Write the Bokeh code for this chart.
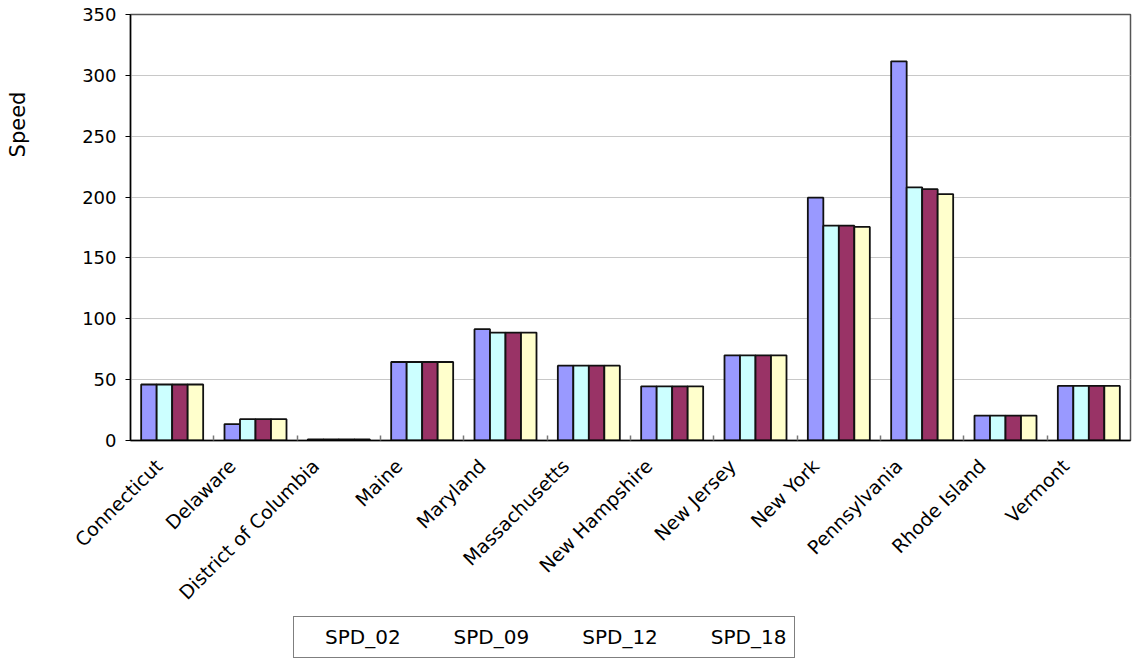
import math
from bokeh.plotting import figure
from bokeh.layouts import column, row
from bokeh.models import (ColumnDataSource, FixedTicker, Label, Legend, LegendItem,
                          LinearAxis, Range1d)
from bokeh.transform import dodge
from bokeh.embed import file_html
from bokeh.resources import INLINE

states = ["Connecticut", "Delaware", "District of Columbia", "Maine", "Maryland",
          "Massachusetts", "New Hampshire", "New Jersey", "New York", "Pennsylvania",
          "Rhode Island", "Vermont"]
series_names = ["SPD_02", "SPD_09", "SPD_12", "SPD_18"]
spd_02 = [46, 13.5, 1, 64.5, 91.5, 61.5, 44.5, 70, 199.5, 311.5, 20.5, 44.8]
spd_09 = [46, 17.5, 1, 64.5, 88.7, 61.5, 44.5, 70, 176.5, 208, 20.5, 44.8]
spd_12 = [46, 17.5, 1, 64.5, 88.7, 61.5, 44.5, 70, 176.5, 206.5, 20.5, 44.8]
spd_18 = [46, 17.5, 1, 64.5, 88.7, 61.5, 44.5, 70, 175.5, 202.5, 20.5, 44.8]
y_ticks = [0, 50, 100, 150, 200, 250, 300, 350]

colors = ["#9999FF", "#CCFFFF", "#993366", "#FFFFCC"]
FONT = "DejaVu Sans"

# page layout: [title strip | main plot] over [legend strip]
W, H = 1135, 661
LEFT_W = 70          # strip holding the vertical axis titles
MAIN_H = 614         # height of the main plot row
LEG_H = H - MAIN_H   # legend strip
FT, FR, FB = 14, 1130, 453   # frame top / right / bottom in page pixels

n = len(states)
source = ColumnDataSource(dict(pos=list(range(n)), state=states, SPD_02=spd_02, SPD_09=spd_09,
                               SPD_12=spd_12, SPD_18=spd_18))

# ---------------- main plot ----------------
p = figure(x_range=Range1d(-0.5, n - 0.5), y_range=(0, 350),
           width=W - LEFT_W, height=MAIN_H, output_backend="svg", toolbar_location=None,
           x_axis_location=None,
           min_border_left=130 - LEFT_W, min_border_top=FT, min_border_right=W - FR,
           min_border_bottom=MAIN_H - FB)
p.outline_line_color = "#555555"
p.outline_line_width = 1.5

bw = 0.186
offsets = [-1.5 * bw, -0.5 * bw, 0.5 * bw, 1.5 * bw]
for name, off, c in zip(series_names, offsets, colors):
    p.vbar(x=dodge("pos", off), top=name, width=bw, source=source,
           fill_color=c, line_color="#111111", line_width=1.8)

p.yaxis.ticker = FixedTicker(ticks=y_ticks)
p.yaxis.major_label_text_font = FONT
p.yaxis.major_label_text_font_size = "18px"
p.yaxis.major_label_text_color = "#000000"
p.yaxis.major_tick_in = 0
p.yaxis.major_tick_out = 5
p.yaxis.minor_tick_line_color = None
p.yaxis.axis_line_color = "#000000"
p.yaxis.axis_line_width = 1.5
p.yaxis.major_label_standoff = 9

# category axis: labels sit slightly left of the group centres, ticks between groups
shift = 0.28
p.extra_x_ranges = {"lab": Range1d(start=-0.5 + shift, end=n - 0.5 + shift)}
xa = LinearAxis(x_range_name="lab",
                ticker=FixedTicker(ticks=list(range(n)),
                                   minor_ticks=[k - 0.5 + shift for k in range(1, n)]))
xa.major_label_overrides = {i: s for i, s in enumerate(states)}
xa.major_label_orientation = math.pi / 4
xa.major_label_text_font = FONT
xa.major_label_text_font_size = "19px"
xa.major_label_text_color = "#000000"
xa.major_label_standoff = 16
xa.major_tick_line_color = None
xa.minor_tick_in = 5
xa.minor_tick_out = 0
xa.minor_tick_line_color = "#777777"
xa.minor_tick_line_width = 1.5
xa.axis_line_color = "#000000"
xa.axis_line_width = 1.5
p.add_layout(xa, "below")

p.xgrid.grid_line_color = None
p.ygrid.grid_line_color = "#c8c8c8"
p.ygrid.grid_line_width = 1

# ---------------- title strip (left) ----------------
t = figure(x_range=(0, 1), y_range=(0, 1), width=LEFT_W, height=MAIN_H,
           output_backend="svg", toolbar_location=None,
           x_axis_location=None, y_axis_location=None, min_border=0)
t.outline_line_color = None
t.grid.grid_line_color = None
t.add_layout(Label(x=58, y=MAIN_H - 13, x_units="screen", y_units="screen", text="Thousands",
                   angle=90, angle_units="deg", text_align="right", text_baseline="middle",
                   text_font=FONT, text_font_style="bold", text_font_size="20px",
                   text_color="#000000"))
t.add_layout(Label(x=17, y=MAIN_H - 298, x_units="screen", y_units="screen", text="Speed",
                   angle=90, angle_units="deg", text_align="center", text_baseline="middle",
                   text_font=FONT, text_font_size="21px", text_color="#000000"))

# ---------------- legend strip (bottom) ----------------
lf = figure(x_range=(0, 1), y_range=(0, 1), width=W, height=LEG_H,
            output_backend="svg", toolbar_location=None,
            x_axis_location=None, y_axis_location=None, min_border=0)
lf.outline_line_color = None
lf.grid.grid_line_color = None
leg_renderers = []
for name, c in zip(series_names, colors):
    r = lf.vbar(x=[], top=[], width=0.1, fill_color=c, line_color="#111111", line_width=1.5)
    leg_renderers.append(r)

legend = Legend(items=[LegendItem(label=n_, renderers=[r]) for n_, r in zip(series_names, leg_renderers)],
                orientation="horizontal", location=(293, 3))
legend.label_text_font = FONT
legend.label_text_font_size = "20px"
legend.label_text_color = "#000000"
legend.glyph_width = 14
legend.glyph_height = 14
legend.label_standoff = 9
legend.spacing = 30
legend.padding = 8
legend.margin = 0
legend.border_line_color = "#000000"
legend.border_line_width = 1
legend.background_fill_alpha = 1
lf.add_layout(legend, "center")

layout = column(row(t, p), lf)
open("out.html", "w").write(file_html(layout, INLINE))
